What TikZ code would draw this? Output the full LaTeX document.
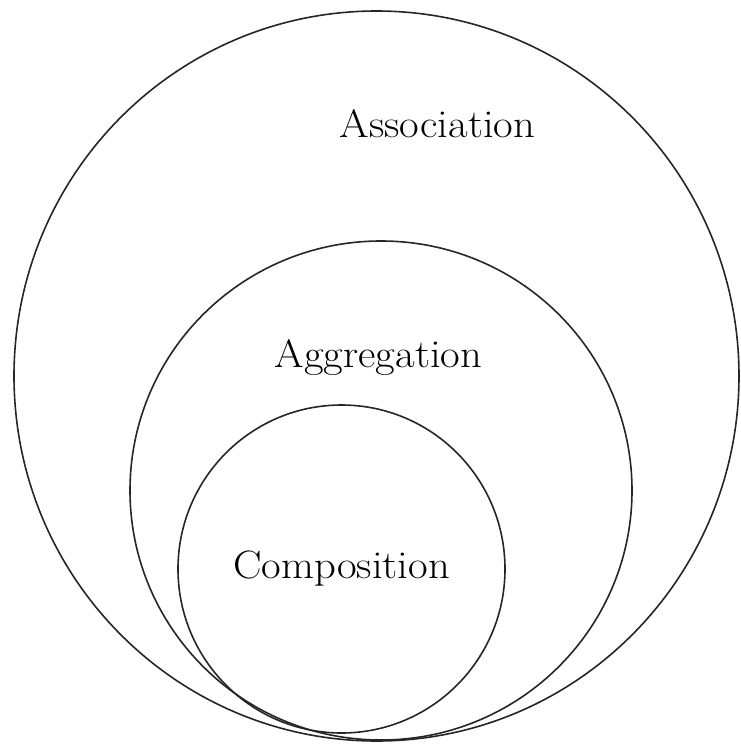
\documentclass[tikz,border=0pt]{standalone}
\begin{document}
\begin{tikzpicture}[x=1pt,y=-1pt,
  ring/.style={draw=black!85,line width=1.6pt},
  lbl/.style={anchor=base,inner sep=0pt,xscale=1.08,transform shape,font=\fontsize{39.5}{44}\selectfont}]
\useasboundingbox (0,0) rectangle (740,745);
\draw[ring] (376.5,376) ellipse [x radius=362.5,y radius=365];
\draw[ring] (381,490.5) ellipse [x radius=251,y radius=249.5];
\draw[ring] (341.5,569) ellipse [x radius=163.5,y radius=164];
\node[lbl] (assoc) at (437.5,137) {Association};
\node[lbl] (aggr) at (378.5,367) {Aggregation};
\node[lbl] (comp) at (341.5,578) {Composition};
\end{tikzpicture}
\end{document}
